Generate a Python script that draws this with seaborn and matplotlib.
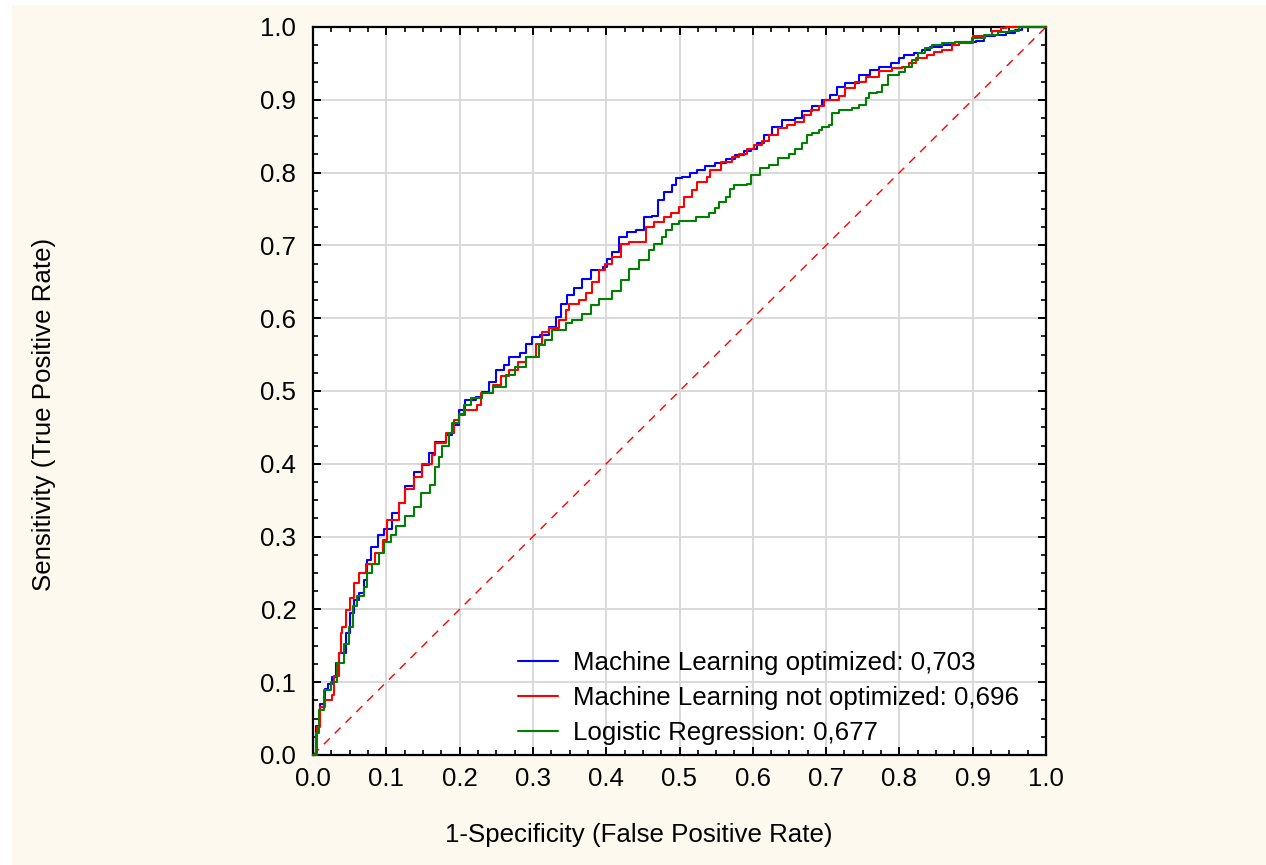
import numpy as np
import pandas as pd
import matplotlib
matplotlib.use("Agg")
import matplotlib.pyplot as plt
from matplotlib.patches import Rectangle
from matplotlib.lines import Line2D
from matplotlib.ticker import MultipleLocator
import seaborn as sns

# ---------------- data ----------------
series_names = ["Machine Learning optimized: 0,703",
                "Machine Learning not optimized: 0,696",
                "Logistic Regression: 0,677"]

fpr_ml_opt = [0.0, 0.004, 0.010, 0.017, 0.021, 0.026, 0.031, 0.035, 0.045, 0.051, 0.056, 0.063,
              0.070, 0.074, 0.079, 0.088, 0.097, 0.108, 0.117, 0.126, 0.138, 0.149, 0.158,
              0.167, 0.181, 0.190, 0.199, 0.208, 0.222, 0.231, 0.240, 0.249, 0.260, 0.267,
              0.283, 0.290, 0.299, 0.310, 0.322, 0.331, 0.338, 0.347, 0.356, 0.367, 0.379,
              0.395, 0.401, 0.408, 0.417, 0.429, 0.440, 0.451, 0.463, 0.470, 0.479, 0.490,
              0.495, 0.504, 0.515, 0.524, 0.535, 0.549, 0.563, 0.576, 0.588, 0.597, 0.606,
              0.615, 0.626, 0.640, 0.658, 0.667, 0.681, 0.695, 0.706, 0.715, 0.726, 0.745,
              0.760, 0.772, 0.788, 0.799, 0.806, 0.820, 0.831, 0.842, 0.858, 0.881, 0.904,
              0.915, 0.931, 0.945, 0.958, 0.967, 1.0]
tpr_ml_opt = [0.0, 0.040, 0.070, 0.090, 0.098, 0.107, 0.126, 0.140, 0.167, 0.195, 0.213, 0.222,
              0.240, 0.268, 0.286, 0.302, 0.311, 0.332, 0.346, 0.369, 0.389, 0.398, 0.415,
              0.430, 0.440, 0.453, 0.474, 0.488, 0.492, 0.499, 0.513, 0.529, 0.536, 0.547,
              0.552, 0.565, 0.574, 0.577, 0.588, 0.602, 0.620, 0.632, 0.641, 0.654, 0.666,
              0.670, 0.682, 0.691, 0.711, 0.718, 0.721, 0.739, 0.741, 0.762, 0.774, 0.783,
              0.792, 0.794, 0.799, 0.804, 0.809, 0.813, 0.818, 0.824, 0.829, 0.833, 0.840,
              0.852, 0.863, 0.872, 0.875, 0.884, 0.891, 0.900, 0.907, 0.918, 0.923, 0.934,
              0.941, 0.945, 0.950, 0.957, 0.962, 0.964, 0.969, 0.973, 0.975, 0.980, 0.981,
              0.987, 0.989, 0.992, 0.996, 1.000, 1.0]

fpr_ml_not = [0.0, 0.006, 0.010, 0.017, 0.026, 0.029, 0.035, 0.038, 0.040, 0.045, 0.051, 0.056,
              0.063, 0.072, 0.085, 0.095, 0.101, 0.117, 0.126, 0.138, 0.149, 0.163, 0.167,
              0.181, 0.192, 0.199, 0.208, 0.224, 0.229, 0.245, 0.256, 0.267, 0.279, 0.290,
              0.304, 0.313, 0.322, 0.335, 0.345, 0.349, 0.363, 0.372, 0.381, 0.390, 0.399,
              0.408, 0.420, 0.431, 0.445, 0.454, 0.465, 0.479, 0.488, 0.499, 0.506, 0.517,
              0.524, 0.538, 0.542, 0.556, 0.572, 0.581, 0.592, 0.601, 0.613, 0.622, 0.635,
              0.647, 0.658, 0.670, 0.679, 0.690, 0.697, 0.717, 0.726, 0.740, 0.754, 0.772,
              0.790, 0.804, 0.813, 0.822, 0.838, 0.847, 0.858, 0.872, 0.881, 0.901, 0.915,
              0.926, 0.938, 0.945, 1.0]
tpr_ml_not = [0.0, 0.039, 0.066, 0.076, 0.082, 0.108, 0.140, 0.167, 0.176, 0.199, 0.215, 0.236,
              0.250, 0.263, 0.277, 0.295, 0.323, 0.346, 0.366, 0.382, 0.400, 0.412, 0.428,
              0.442, 0.460, 0.467, 0.474, 0.481, 0.497, 0.508, 0.520, 0.529, 0.540, 0.547,
              0.565, 0.581, 0.586, 0.597, 0.611, 0.620, 0.625, 0.634, 0.650, 0.666, 0.675,
              0.684, 0.702, 0.705, 0.705, 0.725, 0.732, 0.739, 0.744, 0.753, 0.767, 0.776,
              0.787, 0.794, 0.803, 0.815, 0.822, 0.826, 0.833, 0.838, 0.843, 0.852, 0.861,
              0.866, 0.870, 0.879, 0.886, 0.891, 0.900, 0.905, 0.916, 0.925, 0.932, 0.939,
              0.944, 0.945, 0.950, 0.957, 0.962, 0.966, 0.969, 0.975, 0.978, 0.987, 0.989,
              0.994, 0.999, 1.000, 1.0]

fpr_logreg = [0.0, 0.004, 0.008, 0.015, 0.024, 0.033, 0.042, 0.049, 0.054, 0.060, 0.069, 0.074,
              0.081, 0.090, 0.097, 0.106, 0.113, 0.126, 0.138, 0.147, 0.160, 0.166, 0.172,
              0.176, 0.185, 0.190, 0.199, 0.206, 0.215, 0.231, 0.245, 0.263, 0.276, 0.290,
              0.308, 0.317, 0.326, 0.345, 0.354, 0.367, 0.379, 0.390, 0.404, 0.408, 0.420,
              0.431, 0.445, 0.458, 0.465, 0.476, 0.481, 0.490, 0.499, 0.522, 0.540, 0.549,
              0.554, 0.563, 0.569, 0.574, 0.592, 0.597, 0.610, 0.622, 0.635, 0.649, 0.658,
              0.667, 0.674, 0.681, 0.690, 0.695, 0.704, 0.708, 0.717, 0.735, 0.745, 0.754,
              0.758, 0.770, 0.776, 0.785, 0.799, 0.808, 0.817, 0.826, 0.835, 0.844, 0.858,
              0.876, 0.899, 0.917, 0.935, 0.949, 0.963, 1.0]
tpr_logreg = [0.0, 0.030, 0.062, 0.089, 0.100, 0.126, 0.153, 0.176, 0.204, 0.218, 0.231, 0.250,
              0.263, 0.277, 0.293, 0.302, 0.314, 0.328, 0.341, 0.360, 0.371, 0.396, 0.410,
              0.424, 0.442, 0.456, 0.468, 0.481, 0.490, 0.497, 0.506, 0.522, 0.533, 0.547,
              0.563, 0.570, 0.584, 0.593, 0.597, 0.606, 0.618, 0.627, 0.627, 0.638, 0.652,
              0.668, 0.680, 0.693, 0.702, 0.711, 0.721, 0.730, 0.734, 0.739, 0.744, 0.751,
              0.760, 0.767, 0.778, 0.783, 0.785, 0.797, 0.806, 0.810, 0.820, 0.826, 0.833,
              0.840, 0.852, 0.854, 0.859, 0.863, 0.866, 0.882, 0.886, 0.889, 0.893, 0.902,
              0.909, 0.911, 0.921, 0.934, 0.938, 0.945, 0.955, 0.964, 0.971, 0.975, 0.978,
              0.980, 0.985, 0.989, 0.993, 0.994, 1.000, 1.0]

diag_x = [0.0, 1.0]
diag_y = [0.0, 1.0]

tick_vals = [0.0, 0.1, 0.2, 0.3, 0.4, 0.5, 0.6, 0.7, 0.8, 0.9, 1.0]
tick_labels = ["0.0", "0.1", "0.2", "0.3", "0.4", "0.5", "0.6", "0.7", "0.8", "0.9", "1.0"]

colors = ["#0000FF", "#FF0000", "#008000"]

# ---------------- build long table ----------------
frames = []
for name, fx, ty in zip(series_names,
                        [fpr_ml_opt, fpr_ml_not, fpr_logreg],
                        [tpr_ml_opt, tpr_ml_not, tpr_logreg]):
    frames.append(pd.DataFrame({"fpr": fx, "tpr": ty, "model": name}))
df = pd.concat(frames, ignore_index=True)

# ---------------- figure ----------------
sns.set_style("white")
plt.rcParams["font.family"] = ["Liberation Sans", "DejaVu Sans"]
plt.rcParams["text.color"] = "black"
plt.rcParams["axes.labelcolor"] = "black"
plt.rcParams["xtick.color"] = "black"
plt.rcParams["ytick.color"] = "black"

FS = 18.6

fig = plt.figure(figsize=(12.66, 8.65), dpi=100, facecolor="white")
fig.patches.append(Rectangle((12 / 1266, 0), 1 - 12 / 1266, 1 - 5 / 865,
                             transform=fig.transFigure, facecolor="#FEF9EE",
                             edgecolor="none", zorder=-10))

ax = fig.add_axes([313 / 1266, (865 - 755) / 865, (1046 - 313) / 1266, (755 - 27) / 865])
ax.set_facecolor("white")

# diagonal reference
ax.plot(diag_x, diag_y, color="#FF0000", lw=1.0, linestyle=(0, (6, 5)), zorder=2)

sns.lineplot(data=df, x="fpr", y="tpr", hue="model", hue_order=series_names,
             palette=colors, sort=False, estimator=None,
             lw=1.5, drawstyle="steps-post", ax=ax, legend=False)
for ln in ax.lines[1:]:
    ln.set_clip_on(False)
    ln.set_zorder(4)

ax.set_xlim(0, 1)
ax.set_ylim(0, 1)
ax.set_xticks(tick_vals)
ax.set_xticklabels(tick_labels)
ax.set_yticks(tick_vals)
ax.set_yticklabels(tick_labels)
ax.xaxis.set_minor_locator(MultipleLocator(0.025))
ax.yaxis.set_minor_locator(MultipleLocator(0.025))

ax.grid(True, which="major", color="#D9D9D9", lw=1.4, zorder=0)
ax.set_axisbelow(True)

for sp in ax.spines.values():
    sp.set_color("black")
    sp.set_linewidth(1.6)
    sp.set_visible(True)
    sp.set_zorder(3)

ax.tick_params(which="major", direction="in", length=6, width=1.4,
               top=True, right=True, bottom=True, left=True,
               labelsize=FS, pad=9, colors="black")
ax.tick_params(which="minor", direction="in", length=3.5, width=1.2,
               top=True, right=True, bottom=True, left=True, colors="black")
ax.tick_params(axis="y", which="major", pad=12)

ax.set_xlabel("1-Specificity (False Positive Rate)", fontsize=FS, color="black")
ax.set_ylabel("Sensitivity (True Positive Rate)", fontsize=FS, color="black")
ax.xaxis.set_label_coords((639 - 313) / 734, -(835 - 755) / 728)
ax.xaxis.label.set_va("center")
ax.yaxis.set_label_coords(-(313 - 44) / 734, (755 - 414) / 728)
ax.yaxis.label.set_va("center")

handles = [Line2D([0], [0], color=c, lw=1.5) for c in colors]
leg = ax.legend(handles, series_names, loc="upper left",
                bbox_to_anchor=((518 - 313) / 734, (755 - 651) / 728),
                frameon=False, fontsize=FS, handlelength=1.55,
                handletextpad=0.58, labelspacing=0.43, borderpad=0, borderaxespad=0)
for t in leg.get_texts():
    t.set_color("black")

fig.savefig("out.png", dpi=100, facecolor=fig.get_facecolor())
